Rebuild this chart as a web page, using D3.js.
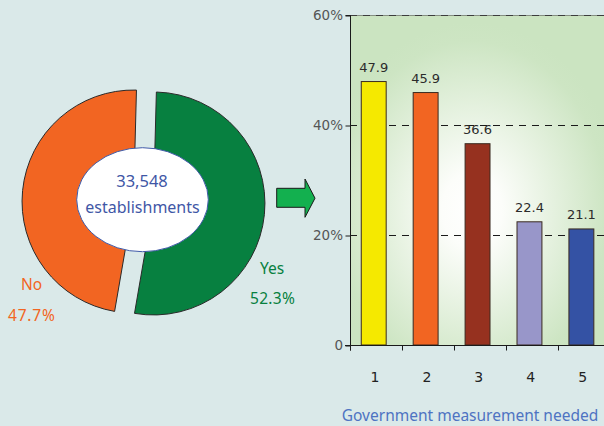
<!DOCTYPE html>
<html>
<head>
<meta charset="utf-8">
<script src="https://cdn.jsdelivr.net/npm/d3@7"></script>
<style>
  html, body { margin: 0; padding: 0; background: #dae9e9; }
  svg { display: block; }
</style>
</head>
<body>
<svg id="chart" width="604" height="426"></svg>
<script>
// ---- Data ----
const pieLabels = ["Yes", "No"];
const pieValues = [52.3, 47.7];
const pieColors = ["#078040", "#f26522"];
const totalLabel = "33,548";
const totalSub = "establishments";

const barCategories = ["1", "2", "3", "4", "5"];
const barValues = [47.9, 45.9, 36.6, 22.4, 21.1];
const barColors = ["#f5e900", "#f26522", "#96311f", "#9896c9", "#3452a4"];
const yTicks = [0, 20, 40, 60];
const yTickLabels = ["0", "20%", "40%", "60%"];
const xTitle = "Government measurement needed";

const svg = d3.select("#chart");
const defs = svg.append("defs");

// ---- Pie (exploded) ----
const cx = 143.5, cy = 202.5, R = 111.5, explode = 10;
const startDeg = 1.5;
const pie = d3.pie().sort(null).value(d => d)
  .startAngle(startDeg * Math.PI / 180)
  .endAngle((startDeg + 360) * Math.PI / 180);
const arcs = pie(pieValues);
const arcGen = d3.arc().innerRadius(0).outerRadius(R);
const pieG = svg.append("g").attr("transform", `translate(${cx},${cy})`);
pieG.selectAll("path").data(arcs).enter().append("path")
  .attr("d", arcGen)
  .attr("transform", d => {
    const a = (d.startAngle + d.endAngle) / 2;
    return `translate(${explode * Math.sin(a)},${-explode * Math.cos(a)})`;
  })
  .attr("fill", (d, i) => pieColors[i])
  .attr("stroke", "#2a2a2a")
  .attr("stroke-width", 1);

// center ellipse
svg.append("ellipse")
  .attr("cx", 142.5).attr("cy", 199.7).attr("rx", 65.8).attr("ry", 52)
  .attr("fill", "#ffffff").attr("stroke", "#3f5aa8").attr("stroke-width", 1);
svg.append("text").attr("x", 142).attr("y", 186.5)
  .attr("text-anchor", "middle").attr("fill", "#3f57a6")
  .style("font-family", "'Noto Sans', sans-serif").style("font-size", "16.5px")
  .text(totalLabel);
svg.append("text").attr("x", 142.5).attr("y", 212.5)
  .attr("text-anchor", "middle").attr("fill", "#3f57a6")
  .style("font-family", "'Noto Sans', sans-serif").style("font-size", "16px")
  .text(totalSub);

// pie labels
const pieLabelStyle = sel => sel
  .style("font-family", "'Noto Sans', sans-serif").style("font-size", "15.5px");
svg.append("text").attr("x", 21).attr("y", 290).attr("fill", pieColors[1])
  .call(pieLabelStyle).text(pieLabels[1]);
svg.append("text").attr("x", 8).attr("y", 320.5).attr("fill", pieColors[1])
  .call(pieLabelStyle).style("letter-spacing", "0.8px").text(pieValues[1].toFixed(1) + "%");
svg.append("text").attr("x", 260).attr("y", 274.3).attr("fill", pieColors[0])
  .call(pieLabelStyle).text(pieLabels[0]);
svg.append("text").attr("x", 250).attr("y", 304).attr("fill", pieColors[0])
  .call(pieLabelStyle).style("letter-spacing", "0.3px").text(pieValues[0].toFixed(1) + "%");

// ---- Arrow ----
svg.append("path")
  .attr("d", "M276.7,188.3 L305,188.3 L305,179 L315,198.2 L305,217.3 L305,207.3 L276.7,207.3 Z")
  .attr("fill", "#13b04f").attr("stroke", "#1a1a1a").attr("stroke-width", 1);

// ---- Bar chart ----
const x0 = 350, x1 = 607.5, yTop = 15, yBot = 345;
const x = d3.scaleBand().domain(barCategories).range([x0, x1]).paddingInner(0.52).paddingOuter(0.24);
const y = d3.scaleLinear().domain([0, 60]).range([yBot, yTop]);

const grad = defs.append("radialGradient").attr("id", "plotGrad")
  .attr("gradientUnits", "userSpaceOnUse")
  .attr("cx", 472).attr("cy", 210).attr("r", 150)
  .attr("gradientTransform", "translate(472,210) scale(1,1.25) translate(-472,-210)");
grad.append("stop").attr("offset", "0%").attr("stop-color", "#ffffff");
grad.append("stop").attr("offset", "20%").attr("stop-color", "#fcfdfa");
grad.append("stop").attr("offset", "90%").attr("stop-color", "#cde5c3");
grad.append("stop").attr("offset", "100%").attr("stop-color", "#cbe4c1");

svg.append("rect").attr("x", x0).attr("y", yTop).attr("width", 604 - x0).attr("height", yBot - yTop)
  .attr("fill", "url(#plotGrad)");

// gridlines
svg.append("g").selectAll("line").data(yTicks.filter(d => d > 0)).enter().append("line")
  .attr("x1", x0).attr("x2", 604)
  .attr("y1", d => y(d) + 0.5).attr("y2", d => y(d) + 0.5)
  .attr("stroke", "#1a1a1a").attr("stroke-width", 1)
  .attr("stroke-dasharray", "7,6");
svg.append("line").attr("x1", x0).attr("x2", 604).attr("y1", y(60) + 0.5).attr("y2", y(60) + 0.5)
  .attr("stroke", "#555").attr("stroke-width", 0.6);

// bars
svg.append("g").selectAll("rect").data(barValues).enter().append("rect")
  .attr("x", (d, i) => x(barCategories[i]) - 1.2)
  .attr("y", d => y(d))
  .attr("width", x.bandwidth())
  .attr("height", d => yBot - y(d))
  .attr("fill", (d, i) => barColors[i])
  .attr("stroke", "#3a2a20").attr("stroke-width", 1);

// value labels
svg.append("g").selectAll("text").data(barValues).enter().append("text")
  .attr("x", (d, i) => x(barCategories[i]) - 1.2 + x.bandwidth() / 2)
  .attr("y", d => y(d) - 9.5)
  .attr("text-anchor", "middle").attr("fill", "#2b2b2b")
  .style("font-family", "'DejaVu Sans', sans-serif").style("font-size", "13px")
  .text(d => d.toFixed(1));

// y axis
const yAxis = d3.axisLeft(y).tickValues(yTicks).tickSize(5).tickFormat((d, i) => yTickLabels[i]);
const yG = svg.append("g").attr("transform", `translate(${x0 + 0.5},0.5)`).call(yAxis);
yG.select(".domain").attr("stroke", "#1a1a1a").attr("d", `M-5,${yTop}H0V${yBot + 5}`);
yG.selectAll(".tick line").attr("stroke", "#1a1a1a");
yG.selectAll(".tick text").attr("fill", "#555").attr("x", -7.5)
  .style("font-family", "'DejaVu Sans', sans-serif").style("font-size", "13.5px");

// x axis
const xAxis = d3.axisBottom(x).tickSize(0).tickPadding(0);
const xG = svg.append("g").attr("transform", `translate(0,${yBot + 0.5})`).call(xAxis);
xG.select(".domain").attr("stroke", "#1a1a1a").attr("d", `M${x0 - 5},0H604`);
xG.selectAll(".tick text").attr("fill", "#222").attr("y", 36.5).attr("dy", 0)
  .style("font-family", "'DejaVu Sans', sans-serif").style("font-size", "14px");
// band boundary ticks
const step = x.step();
const boundaryPos = d3.range(barCategories.length).map(i => Math.round(x0 + i * step) + 0.5);
xG.append("g").selectAll("line").data(boundaryPos).enter().append("line")
  .attr("x1", d => d).attr("x2", d => d).attr("y1", 0).attr("y2", 5)
  .attr("stroke", "#1a1a1a");

svg.append("text").attr("x", 470).attr("y", 421)
  .attr("text-anchor", "middle").attr("fill", "#4e73c2")
  .style("font-family", "'Noto Sans', sans-serif").style("font-size", "15.5px")
  .text(xTitle);
</script>
</body>
</html>
